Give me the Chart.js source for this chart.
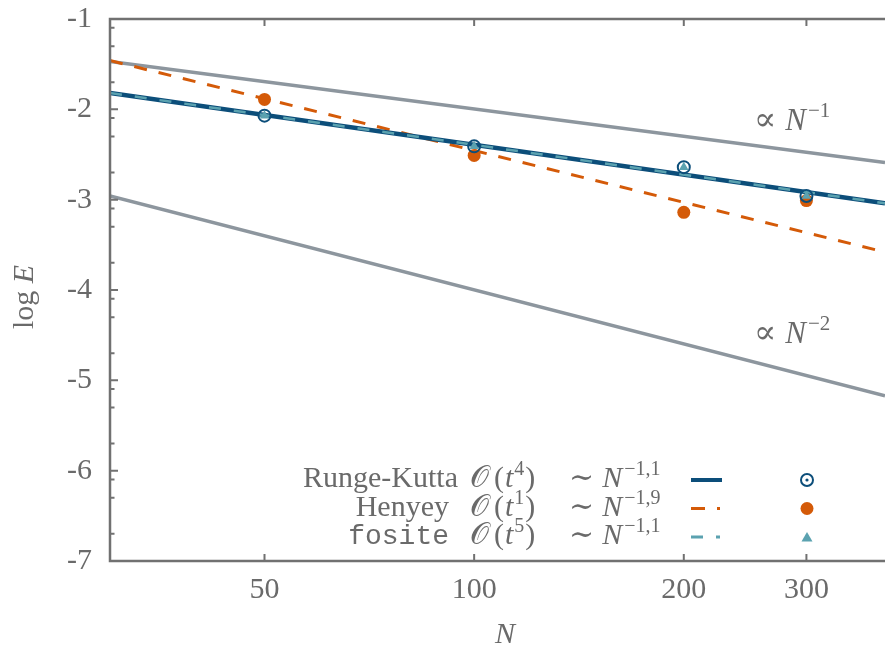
<!DOCTYPE html>
<html>
<head>
<meta charset="utf-8">
<script src="https://cdn.jsdelivr.net/npm/chart.js@4.4.1/dist/chart.umd.min.js"></script>
<style>
html, body { margin: 0; padding: 0; background: #fff; overflow: hidden; }
</style>
</head>
<body>
<canvas id="myChart" width="885" height="646"></canvas>
<script>
// measured points
const nPoints = [50, 100, 200, 300]
const rungeKutta = [-2.07, -2.41, -2.64, -2.96]
const henyey = [-1.89, -2.51, -3.14, -3.01]
const fosite = [-2.07, -2.41, -2.64, -2.96]

// fit lines and reference slopes, end points
const fitN = [30, 389]
const rkFit = [-1.82, -3.04]
const henyeyFit = [-1.46, -3.58]
const fositeFit = [-1.82, -3.04]
const propN1 = [-1.47, -2.59]
const propN2 = [-2.96, -5.17]

const xTicks = [50, 100, 200, 300]
const yTicks = [-1, -2, -3, -4, -5, -6, -7]
const yMinor = [2, 5, 8]

const blue = '#0c4e7a'
const orange = '#d45a08'
const teal = '#5ba2b0'
const gray = '#8d969e'
const axisColor = '#717171'
const textColor = '#6a6a6a'
const serif = '"Liberation Serif", "DejaVu Serif", serif'

Chart.defaults.font.family = serif
Chart.defaults.color = textColor

function xy(xs, ys) {
    return xs.map((x, i) => ({x: x, y: ys[i]}))
}

function drawRich(ctx, x, y, parts) {
    for (const p of parts) {
        ctx.font = p.font
        x += (p.gap || 0)
        ctx.fillText(p.text, x, y - (p.rise || 0))
        x += ctx.measureText(p.text).width
    }
    return x
}

function richWidth(ctx, parts) {
    let w = 0
    for (const p of parts) {
        ctx.font = p.font
        w += ctx.measureText(p.text).width + (p.gap || 0)
    }
    return w
}

const rm = '30px ' + serif
const it = 'italic 30px ' + serif
const sup = '20px ' + serif
const tt = '28px "Liberation Mono", "DejaVu Sans Mono", monospace'

const legendRows = [
    {name: 'Runge-Kutta', font: rm, end: 458, ord: '4', slope: '−1,1', y: 487, color: blue, dash: []},
    {name: 'Henyey', font: rm, end: 449, ord: '1', slope: '−1,9', y: 515.5, color: orange, dash: [14, 12]},
    {name: 'fosite', font: tt, end: 449, ord: '5', slope: '−1,1', y: 544, color: teal, dash: [12, 13]}
]

const decor = {
    id: 'decor',
    afterDatasetsDraw(chart) {
        const {ctx, chartArea: a, scales: {x, y}} = chart
        ctx.save()
        ctx.strokeStyle = axisColor
        ctx.lineWidth = 2.5
        ctx.beginPath()
        ctx.moveTo(a.right, a.top)
        ctx.lineTo(a.left, a.top)
        ctx.lineTo(a.left, a.bottom)
        ctx.lineTo(a.right, a.bottom)
        ctx.stroke()
        ctx.lineWidth = 2
        ctx.beginPath()
        yTicks.forEach((v) => {
            const py = y.getPixelForValue(v)
            ctx.moveTo(a.left, py)
            ctx.lineTo(a.left + 8, py)
        })
        yTicks.slice(1).forEach((v) => {
            yMinor.forEach((k) => {
                const py = y.getPixelForValue(v + Math.log10(k))
                ctx.moveTo(a.left, py)
                ctx.lineTo(a.left + 4.5, py)
            })
        })
        xTicks.forEach((v) => {
            const px = x.getPixelForValue(v)
            ctx.moveTo(px, a.bottom)
            ctx.lineTo(px, a.bottom - 7)
            ctx.moveTo(px, a.top)
            ctx.lineTo(px, a.top + 7)
        })
        ctx.stroke()
        ctx.restore()
    },
    afterDraw(chart) {
        const ctx = chart.ctx
        ctx.save()
        ctx.fillStyle = textColor
        ctx.textBaseline = 'alphabetic'
        ctx.textAlign = 'left'

        // axis titles
        ctx.font = 'italic 30px ' + serif
        ctx.textAlign = 'center'
        ctx.fillText('N', 505, 643)
        ctx.textAlign = 'left'
        ctx.save()
        ctx.translate(33, 297)
        ctx.rotate(-Math.PI / 2)
        const yl = [{text: 'log ', font: '30px ' + serif}, {text: 'E', font: 'italic 30px ' + serif}]
        drawRich(ctx, -richWidth(ctx, yl) / 2, 0, yl)
        ctx.restore()

        // slope annotations
        drawRich(ctx, 754, 130, [
            {text: '∝', font: '33px ' + serif},
            {text: 'N', font: 'italic 31px ' + serif, gap: 9},
            {text: '−1', font: '21px ' + serif, rise: 13, gap: 2}
        ])
        drawRich(ctx, 754, 343, [
            {text: '∝', font: '33px ' + serif},
            {text: 'N', font: 'italic 31px ' + serif, gap: 9},
            {text: '−2', font: '21px ' + serif, rise: 13, gap: 2}
        ])

        // legend
        legendRows.forEach((r) => {
            ctx.fillStyle = textColor
            ctx.font = r.font
            ctx.textAlign = 'right'
            ctx.fillText(r.name, r.end, r.y)
            ctx.textAlign = 'left'
            drawRich(ctx, 470, r.y, [
                {text: '𝒪', font: rm},
                {text: '(', font: rm, gap: 5},
                {text: 't', font: it, gap: 1},
                {text: r.ord, font: sup, rise: 12, gap: 1},
                {text: ')', font: rm, gap: 1}
            ])
            drawRich(ctx, 569, r.y, [
                {text: '∼', font: rm},
                {text: 'N', font: it, gap: 8},
                {text: r.slope, font: sup, rise: 12, gap: 2}
            ])
            ctx.strokeStyle = r.color
            ctx.lineWidth = r.dash.length ? 3 : 4
            ctx.setLineDash(r.dash)
            ctx.beginPath()
            ctx.moveTo(691, r.y - 7)
            ctx.lineTo(r.dash.length ? 720 : 722, r.y - 7)
            ctx.stroke()
            ctx.setLineDash([])
        })
        // legend markers
        const mx = 807
        ctx.strokeStyle = blue
        ctx.fillStyle = blue
        ctx.lineWidth = 2
        ctx.beginPath()
        ctx.arc(mx, 480, 6, 0, Math.PI * 2)
        ctx.stroke()
        ctx.beginPath()
        ctx.arc(mx, 480, 1.6, 0, Math.PI * 2)
        ctx.fill()
        ctx.fillStyle = orange
        ctx.beginPath()
        ctx.arc(mx, 508.5, 6.5, 0, Math.PI * 2)
        ctx.fill()
        ctx.fillStyle = teal
        ctx.beginPath()
        ctx.moveTo(mx, 532)
        ctx.lineTo(mx + 5.5, 541.5)
        ctx.lineTo(mx - 5.5, 541.5)
        ctx.closePath()
        ctx.fill()
        ctx.restore()
    }
}

const ctx = document.getElementById('myChart')
const myChart = new Chart(ctx, {
    type: 'line',
    data: {
        datasets: [
            {data: xy(fitN, propN1), borderColor: gray, borderWidth: 3.5, pointRadius: 0, order: 10},
            {data: xy(fitN, propN2), borderColor: gray, borderWidth: 3.5, pointRadius: 0, order: 10},
            {data: xy(fitN, henyeyFit), borderColor: orange, borderWidth: 3, borderDash: [13, 12], pointRadius: 0, order: 9},
            {data: xy(fitN, rkFit), borderColor: blue, borderWidth: 4.5, pointRadius: 0, order: 8},
            {data: xy(fitN, fositeFit), borderColor: teal, borderWidth: 2.5, borderDash: [12, 13], pointRadius: 0, order: 7},
            {data: xy(nPoints, henyey), showLine: false, pointRadius: 6.5, pointBackgroundColor: orange, pointBorderWidth: 0, order: 6},
            {data: xy(nPoints, rungeKutta), showLine: false, pointRadius: 6, pointBorderColor: blue, pointBorderWidth: 2, pointBackgroundColor: 'rgba(0,0,0,0)', order: 5},
            {data: xy(nPoints, rungeKutta), showLine: false, pointRadius: 1.6, pointBackgroundColor: blue, pointBorderWidth: 0, order: 4},
            {data: xy(nPoints, fosite), showLine: false, pointStyle: 'triangle', pointRadius: 5.5, pointBackgroundColor: teal, pointBorderWidth: 0, order: 3}
        ]
    },
    options: {
        responsive: false,
        animation: false,
        events: [],
        layout: {autoPadding: false, padding: {top: 19, right: 0, left: 0, bottom: 0}},
        plugins: {
            legend: {display: false},
            tooltip: {enabled: false}
        },
        scales: {
            x: {
                type: 'logarithmic',
                min: 30,
                max: 389,
                grid: {display: false, drawTicks: false},
                border: {display: false},
                afterBuildTicks: (scale) => {
                    scale.ticks = xTicks.map((v) => ({value: v}))
                },
                afterFit: (scale) => {
                    scale.height = 85
                    scale.paddingLeft = 0
                    scale.paddingRight = 0
                },
                ticks: {
                    font: {size: 30},
                    color: textColor,
                    padding: 11,
                    maxRotation: 0,
                    callback: (v) => String(v)
                }
            },
            y: {
                type: 'linear',
                min: -7,
                max: -1,
                grid: {display: false, drawTicks: false},
                border: {display: false},
                afterBuildTicks: (scale) => {
                    scale.ticks = yTicks.map((v) => ({value: v}))
                },
                afterFit: (scale) => {
                    scale.width = 110
                    scale.paddingTop = 0
                    scale.paddingBottom = 0
                },
                ticks: {
                    font: {size: 30},
                    color: textColor,
                    padding: 18,
                    callback: (v) => String(v)
                }
            }
        }
    },
    plugins: [decor]
})
</script>
</body>
</html>
